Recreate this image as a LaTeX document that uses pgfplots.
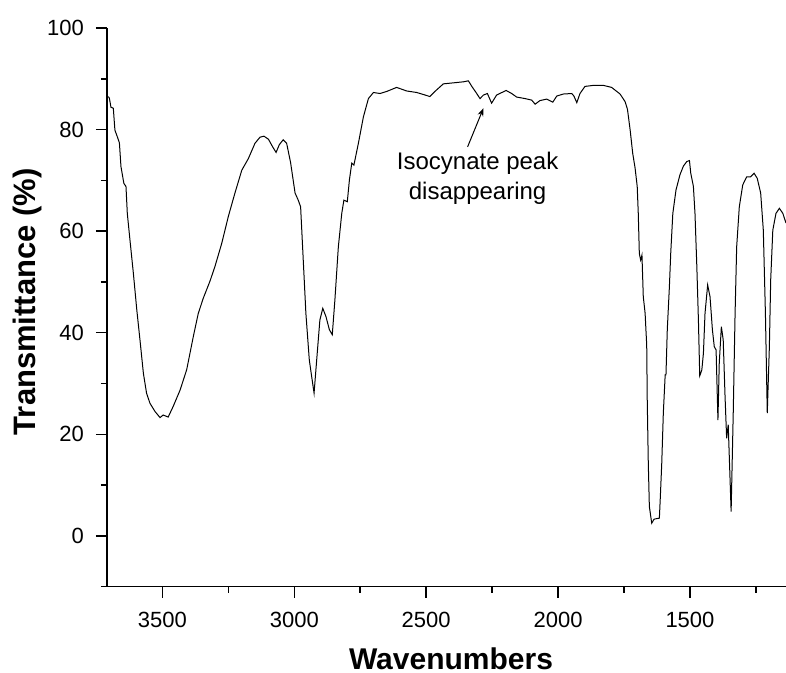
\documentclass[border=0pt]{standalone}
\usepackage{fontspec}
\setmainfont{Liberation Sans}
\usepackage{pgfplots}
\pgfplotsset{compat=1.18}
\usetikzlibrary{arrows.meta}

\pgfplotstableread{
wn T
3705 86.5
3701 86.2
3695 84.4
3686 84.2
3680 79.9
3671 78.6
3663 77.4
3657 72.7
3646 69.4
3638 68.8
3633 63.5
3623 58.3
3610 51.7
3597 44.5
3585 38.6
3572 32.0
3560 28.1
3547 26.1
3528 24.5
3509 23.3
3497 23.8
3478 23.4
3459 25.5
3433 28.7
3408 32.7
3383 39.2
3364 43.8
3345 46.8
3320 50.1
3301 53.0
3275 57.6
3250 62.9
3225 67.5
3199 72.0
3174 74.3
3149 77.3
3130 78.5
3115 78.7
3098 78.1
3082 76.6
3069 75.5
3057 77.0
3042 78.0
3029 77.3
3014 73.5
2997 67.5
2985 66.1
2976 64.8
2966 54.3
2956 43.8
2943 34.6
2925 28.1
2913 36.0
2903 42.5
2892 44.8
2880 43.2
2867 40.6
2856 39.6
2846 46.5
2833 56.9
2820 63.5
2812 66.1
2799 65.8
2791 70.1
2782 73.4
2774 73.0
2757 77.3
2738 82.5
2719 86.1
2700 87.3
2675 87.1
2650 87.5
2612 88.3
2574 87.6
2536 87.3
2504 86.8
2486 86.5
2467 87.5
2435 89.0
2397 89.2
2359 89.4
2340 89.6
2327 88.5
2311 87.3
2296 86.1
2283 86.8
2268 87.1
2252 85.2
2233 86.8
2197 87.7
2176 87.1
2157 86.4
2125 86.1
2100 85.8
2087 85.0
2069 85.7
2043 86.0
2020 85.4
2005 86.6
1980 87.0
1948 87.1
1940 86.6
1929 85.3
1917 87.1
1898 88.5
1866 88.7
1828 88.7
1797 88.3
1765 87.0
1746 85.5
1737 84.0
1727 80.0
1717 75.3
1708 72.4
1700 68.8
1696 63.5
1692 55.6
1687 54.3
1682 55.3
1677 47.1
1670 43.8
1667 40.6
1664 37.6
1662 26.8
1658 14.3
1654 5.8
1645 2.5
1636 3.3
1616 3.5
1612 8.1
1607 14.3
1601 24.2
1594 31.7
1591 31.7
1586 40.6
1578 49.1
1573 55.6
1565 63.5
1553 68.1
1538 71.1
1525 72.8
1512 73.7
1502 73.9
1497 71.4
1487 68.8
1481 63.5
1474 53.0
1468 42.5
1463 31.5
1455 32.7
1449 36.0
1443 43.8
1433 49.4
1424 47.1
1415 40.6
1408 37.3
1401 36.6
1394 22.8
1389 34.0
1381 41.2
1374 38.6
1367 27.4
1361 19.2
1355 21.9
1344 4.8
1336 24.2
1329 43.8
1323 56.9
1313 64.8
1300 69.1
1285 70.7
1270 70.7
1257 71.4
1245 70.4
1232 67.5
1222 60.2
1214 43.8
1207 24.2
1199 37.3
1194 50.4
1186 60.2
1174 63.5
1161 64.5
1148 63.5
1136 61.6
}\spectrum

\begin{document}
\begin{tikzpicture}
\begin{axis}[
  at={(0,0)}, anchor=south west,
  scale only axis, width=339.5pt, height=279.35pt,
  x dir=reverse,
  xmin=1136, xmax=3710, ymin=-10, ymax=100,
  axis x line*=bottom, axis y line*=left,
  axis line style={-, line width=0.75pt},
  tick align=outside,
  major tick length=5.5pt, minor tick length=3pt,
  every tick/.style={black, line width=0.75pt},
  xtick={1500,2000,2500,3000,3500},
  minor xtick={1250,1750,2250,2750,3250},
  ytick={0,20,40,60,80,100},
  minor ytick={-10,10,30,50,70,90},
  /pgf/number format/assume math mode=true,
  /pgf/number format/1000 sep={},
  ticklabel style={font=\fontsize{11}{13}\selectfont},
  xticklabel style={yshift=-3.5pt},
  yticklabel style={xshift=-2.5pt},
  xlabel={Wavenumbers},
  ylabel={Transmittance (\%)},
  xlabel style={at={(rel axis cs:0.5066,0)}, anchor=base, yshift=-41.3pt,
    font=\fontsize{15}{18}\selectfont\bfseries, inner sep=0pt},
  ylabel style={at={(rel axis cs:0,0.51)}, anchor=center, yshift=40pt,
    font=\fontsize{15.5}{18}\selectfont\bfseries},
  clip=true,
]
\addplot[black, line width=0.5pt] table[x=wn, y=T] {\spectrum};
\draw[-{Stealth[length=4pt,width=3pt]}, line width=0.5pt]
  (axis cs:2343,76.6) -- (axis cs:2283,84.2);
\node[align=center, font=\fontsize{12}{15}\selectfont, inner sep=0pt]
  at (axis cs:2305,70.5) {Isocynate peak\\disappearing};
\end{axis}
\pgfresetboundingbox
\path[use as bounding box] (-53.5pt,-43.15pt) rectangle (339.5pt,293.35pt);
\end{tikzpicture}
\end{document}
